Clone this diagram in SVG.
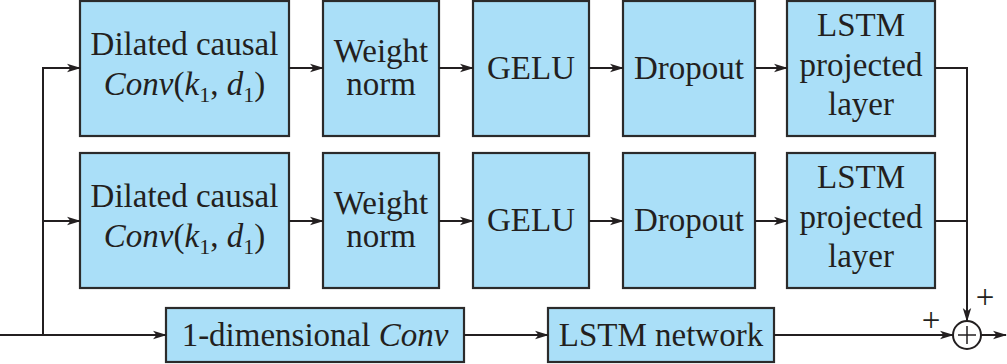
<svg xmlns="http://www.w3.org/2000/svg" width="1007" height="364" viewBox="0 0 1007 364" font-family="Liberation Serif, DejaVu Serif, serif">
<defs>
<marker id="ah" markerWidth="14" markerHeight="10" refX="13" refY="5" orient="auto" markerUnits="userSpaceOnUse">
<path d="M0,0.8 L14,5 L0,9.2 L3.5,5 Z" fill="#231f20"/>
</marker>
</defs>
<style>
.box{fill:#aadff8;stroke:#2b2b2b;stroke-width:2.2}
.i{font-style:italic}
.s{font-size:22px}
.c{fill:none;stroke:#231f20;stroke-width:2}
</style>
<g font-family="Liberation Serif, serif" font-size="33" fill="#231f20" text-anchor="middle">
<g id="r1n1"><rect class="box" x="80" y="1" width="209" height="135"/><text x="184.5" y="55">Dilated causal</text><text x="184.5" y="95"><tspan class="i">Conv</tspan>(<tspan class="i">k</tspan><tspan class="s" dy="7">1</tspan><tspan dy="-7">, </tspan><tspan class="i">d</tspan><tspan class="s" dy="7">1</tspan><tspan dy="-7">)</tspan></text></g>
<g id="r1n2"><rect class="box" x="323" y="1" width="116" height="135"/><text x="381" y="62">Weight</text><text x="381" y="95">norm</text></g>
<g id="r1n3"><rect class="box" x="473" y="1" width="116" height="135"/><text x="531" y="79">GELU</text></g>
<g id="r1n4"><rect class="box" x="623" y="1" width="132" height="135"/><text x="689" y="79">Dropout</text></g>
<g id="r1n5"><rect class="box" x="787" y="1" width="148" height="135"/><text x="861" y="36">LSTM</text><text x="861" y="76">projected</text><text x="861" y="115">layer</text></g>
<g id="r2n1"><rect class="box" x="80" y="153" width="209" height="135"/><text x="184.5" y="207">Dilated causal</text><text x="184.5" y="247"><tspan class="i">Conv</tspan>(<tspan class="i">k</tspan><tspan class="s" dy="7">1</tspan><tspan dy="-7">, </tspan><tspan class="i">d</tspan><tspan class="s" dy="7">1</tspan><tspan dy="-7">)</tspan></text></g>
<g id="r2n2"><rect class="box" x="323" y="153" width="116" height="135"/><text x="381" y="214">Weight</text><text x="381" y="247">norm</text></g>
<g id="r2n3"><rect class="box" x="473" y="153" width="116" height="135"/><text x="531" y="231">GELU</text></g>
<g id="r2n4"><rect class="box" x="623" y="153" width="132" height="135"/><text x="689" y="231">Dropout</text></g>
<g id="r2n5"><rect class="box" x="787" y="153" width="148" height="135"/><text x="861" y="188">LSTM</text><text x="861" y="228">projected</text><text x="861" y="267">layer</text></g>
<g id="conv1d"><rect class="box" x="166" y="308" width="298" height="54"/><text x="315" y="346">1-dimensional <tspan class="i">Conv</tspan></text></g>
<g id="lstmnet"><rect class="box" x="548" y="308" width="226" height="54"/><text x="661" y="346">LSTM network</text></g>
<g id="sum"><circle cx="967" cy="335" r="14" fill="#fff" stroke="#231f20" stroke-width="2"/><path d="M958,335 H976 M967,326 V344" stroke="#231f20" stroke-width="1.5"/><text x="985" y="308">+</text><text x="931" y="331">+</text></g>
</g>
<g id="connectors">
<path class="c" d="M0,335 H166" marker-end="url(#ah)"/>
<path class="c" d="M43,335 V68 H80" marker-end="url(#ah)"/>
<path class="c" d="M43,221 H80" marker-end="url(#ah)"/>
<path class="c" d="M289,68 H323" marker-end="url(#ah)"/>
<path class="c" d="M439,68 H473" marker-end="url(#ah)"/>
<path class="c" d="M589,68 H623" marker-end="url(#ah)"/>
<path class="c" d="M755,68 H787" marker-end="url(#ah)"/>
<path class="c" d="M289,221 H323" marker-end="url(#ah)"/>
<path class="c" d="M439,221 H473" marker-end="url(#ah)"/>
<path class="c" d="M589,221 H623" marker-end="url(#ah)"/>
<path class="c" d="M755,221 H787" marker-end="url(#ah)"/>
<path class="c" d="M935,68 H967 V321" marker-end="url(#ah)"/>
<path class="c" d="M935,221 H967"/>
<path class="c" d="M464,335 H548" marker-end="url(#ah)"/>
<path class="c" d="M774,335 H953" marker-end="url(#ah)"/>
<path class="c" d="M981,335 H1006" marker-end="url(#ah)"/>
</g>
</svg>
